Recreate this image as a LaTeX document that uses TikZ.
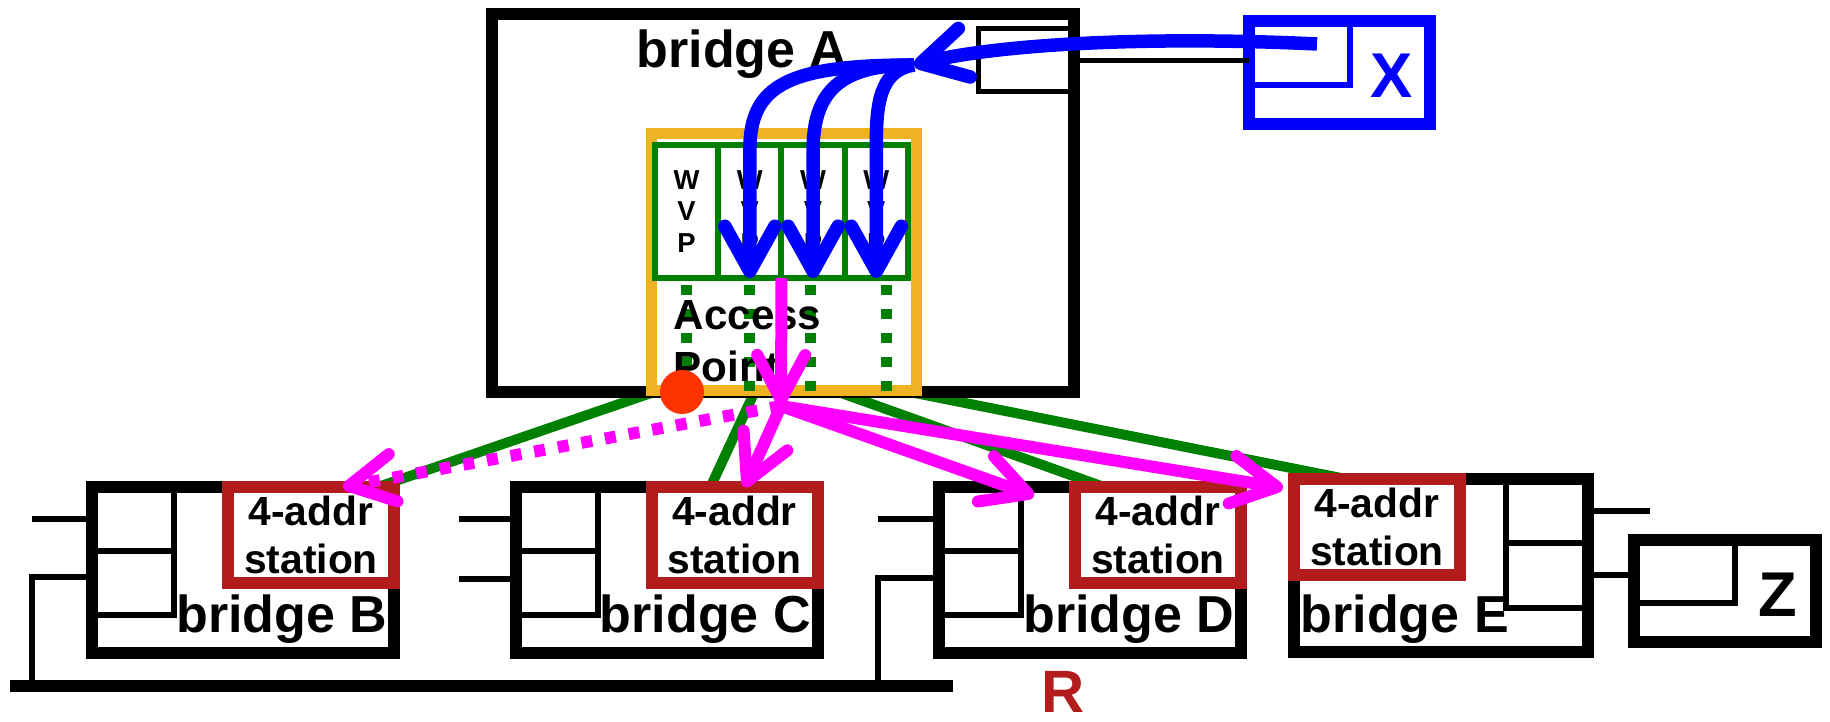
\documentclass[tikz,border=0pt]{standalone}
\usepackage{fontspec}
\setmainfont{Liberation Sans}
\usetikzlibrary{arrows.meta}

\definecolor{apgold}{RGB}{238,178,34}
\definecolor{wvpgreen}{RGB}{0,128,0}
\definecolor{stared}{RGB}{178,28,28}
\definecolor{dotred}{RGB}{255,51,0}
\definecolor{framemag}{RGB}{255,0,255}
\definecolor{frameblue}{RGB}{0,0,255}

\pgfdeclarelayer{back}
\pgfsetlayers{back,main}

\tikzset{
  brbox/.style={draw, line width=1.2mm, inner sep=0pt, outer sep=0pt},
  portbox/.style={draw, line width=0.6mm, inner sep=0pt, outer sep=0pt},
  stbox/.style={draw=stared, line width=1.2mm, inner sep=0pt, outer sep=0pt,
    minimum width=16.6mm, minimum height=9.6mm, align=center,
    font=\bfseries\fontsize{11.6}{13.6}\selectfont},
  wvpbox/.style={draw=wvpgreen, line width=0.6mm, inner sep=0pt, outer sep=0pt,
    minimum width=6.325mm, minimum height=13.3mm, align=center,
    font=\bfseries\fontsize{7.8}{9}\selectfont},
  bname/.style={inner sep=0pt, font=\bfseries\fontsize{14.8}{17}\selectfont},
  hostname/.style={inner sep=0pt, font=\bfseries\fontsize{18}{20}\selectfont},
  wire/.style={line width=0.6mm},
  greendots/.style={draw=wvpgreen, line width=1.1mm, dash pattern=on 1mm off 1.4mm, dash phase=1.7mm},
  radio/.style={draw=wvpgreen, line width=1mm},
  blueflow/.style={draw=frameblue, line width=1.35mm, -{Straight Barb[length=4.5mm,width=5mm,round]}},
  magflow/.style={draw=framemag, line width=1.2mm, -{Straight Barb[length=4.5mm,width=4.8mm,round]}},
}

\begin{document}
\begin{tikzpicture}[x=0.1mm, y=-0.1mm]
\useasboundingbox (0,0) rectangle (1830,722);

% bridge A with its access point
\node[brbox, minimum width=58.2mm, minimum height=37.8mm] (brA) at (783,203) {};
\node[portbox, line width=0.5mm, anchor=north east, minimum width=9.6mm, minimum height=6.3mm] (portA) at (1074,29) {};
\node[bname, anchor=base] (lblA) at (742,68) {bridge A};

\node[brbox, draw=apgold, line width=1.1mm, minimum width=26.5mm, minimum height=25.7mm] (ap) at (783.5,262.5) {};
\foreach \i in {1,...,4}{
  \node[wvpbox] (wvp\i) at ({686.6+63.25*(\i-1)},211.5) {W\\V\\P};
}
\foreach \i/\dx in {1/0,2/0,3/-0.3,4/1}{
  \draw[greendots] ([xshift=\dx mm]wvp\i.south) -- ([xshift=\dx mm]wvp\i.south |- ap.south);
}
\node[inner sep=0pt, anchor=north west, align=left, font=\bfseries\fontsize{12}{14.7}\selectfont] (aplbl) at (673,300) {Access\\Point};
\node[circle, fill=dotred, inner sep=0pt, minimum size=4.4mm] (apdot) at (682,392) {};

% host X
\node[brbox, draw=frameblue, minimum width=18.1mm, minimum height=10.3mm] (boxX) at (1339.5,72.5) {};
\node[portbox, draw=frameblue, anchor=north west, minimum width=10.1mm, minimum height=6.4mm] (portX) at (boxX.north west) {};
\node[hostname, text=frameblue, anchor=base] (lblX) at (1392,98) {X};
\draw[wire, line width=0.5mm] (portA.east) -- (portA.east -| boxX.west);

% bridges B, C, D
\foreach \n/\x in {B/243,C/666.5,D/1090}{
  \node[brbox, minimum width=30.2mm, minimum height=16.6mm] (br\n) at (\x,570) {};
  \node[portbox, anchor=north west, minimum width=8.2mm, minimum height=6.4mm] (p\n1) at (br\n.north west) {};
  \node[portbox, anchor=north west, minimum width=8.2mm, minimum height=6.4mm] (p\n2) at (p\n1.south west) {};
  \node[stbox, anchor=north east] (st\n) at (br\n.north east) {4-addr\\station};
  \node[bname, anchor=base east] (lbl\n) at ([xshift=-0.6mm,yshift=2mm]br\n.south east) {bridge \n};
}

% bridge E and host Z
\node[brbox, minimum width=29.4mm, minimum height=17.3mm] (brE) at (1441,565.5) {};
\node[portbox, anchor=north east, minimum width=8.2mm, minimum height=6.4mm] (pE1) at (brE.north east) {};
\node[portbox, anchor=north east, minimum width=8.2mm, minimum height=6.5mm] (pE2) at (pE1.south east) {};
\node[stbox, anchor=north west] (stE) at (brE.north west) {4-addr\\station};
\node[bname, anchor=base west] (lblE) at ([xshift=0.6mm,yshift=1.9mm]brE.south west) {bridge E};

\node[brbox, minimum width=18.2mm, minimum height=10.2mm] (boxZ) at (1725,591) {};
\node[portbox, anchor=north west, minimum width=10.1mm, minimum height=6.3mm] (portZ) at (boxZ.north west) {};
\node[hostname, anchor=base] (lblZ) at (1778,617) {Z};

\node[inner sep=0pt, anchor=base, text=stared, font=\bfseries\fontsize{17}{20}\selectfont] (lblR) at (1063,713) {R};

% wired side
\coordinate (busL) at (10,686);
\coordinate (busR) at (953,686);
\draw[line width=1.2mm] (busL) -- (busR);
\draw[wire] (pB1.west) -- ++(-6mm,0);
\draw[wire] ([yshift=0.6mm]pB2.west) -- ++(-6mm,0) coordinate (tapB) -- (tapB |- busL);
\draw[wire] (pC1.west) -- ++(-5.7mm,0);
\draw[wire] ([yshift=0.4mm]pC2.west) -- ++(-5.7mm,0);
\draw[wire] (pD1.west) -- ++(-6.1mm,0);
\draw[wire] ([yshift=0.5mm]pD2.west) -- ++(-6.1mm,0) coordinate (tapD) -- (tapD |- busL);
\draw[wire] (pE1.east) -- ++(6.2mm,0);
\draw[wire] (pE2.east) -- (pE2.east -| boxZ.west);

% radio links
\begin{pgfonlayer}{back}
\draw[radio] ([xshift=0.6mm]ap.south west) -- ([xshift=-1.6mm]stB.north east);
\draw[radio] ([xshift=-2.85mm]ap.south) -- ([xshift=-2.4mm]stC.north);
\draw[radio] ([xshift=5.2mm]ap.south) -- ([xshift=2.9mm]stD.north west);
\draw[radio] ([xshift=-1.1mm]ap.south east) -- ([xshift=5.2mm]stE.north west);
\end{pgfonlayer}

% frame from X into the WVPs
\coordinate (xin) at (1317,44);
\coordinate (ingress) at (914,65);
\draw[blueflow] (xin) .. controls (1150,36) and (1000,44) .. (ingress);
\draw[blueflow] (ingress) .. controls +(-12.6mm,0) and +(0,6.5mm) .. ([yshift=12.8mm]wvp2.south) -- (wvp2.south);
\draw[blueflow] (ingress) .. controls +(-6.6mm,0) and +(0,6.5mm) .. ([yshift=12.8mm]wvp3.south) -- (wvp3.south);
\draw[blueflow] (ingress) .. controls +(-3mm,-0.5mm) and +(0,4.5mm) .. ([yshift=13.8mm]wvp4.south) -- (wvp4.south);

% frame out to the stations
\coordinate (fan) at (781,406);
\draw[magflow] (wvp2.south east) -- (fan);
\draw[magflow, dash pattern=on 1.1mm off 1.3mm] (fan) -- ([xshift=-5.1mm]stB.north east);
\draw[magflow] (fan) -- ([xshift=1mm]stC.north);
\draw[magflow] (fan) -- ([xshift=-4.1mm,yshift=-0.9mm]stD.north west);
\draw[magflow] (fan) -- ([xshift=-1.1mm,yshift=-0.9mm]stE.north west);
\end{tikzpicture}
\end{document}
